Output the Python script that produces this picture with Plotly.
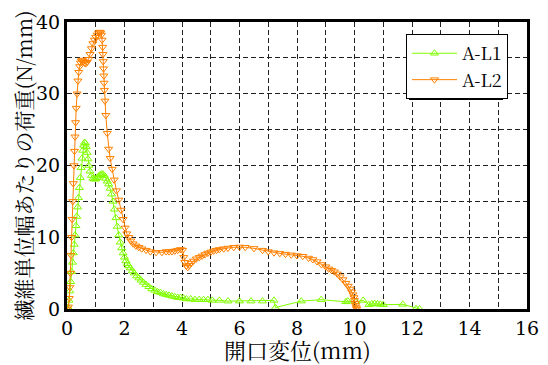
import plotly.graph_objects as go

# A-L1 data (opening displacement mm, load N/mm)
x_l1 = [0.0, 0.04, 0.07, 0.1, 0.13, 0.16, 0.19, 0.22, 0.25, 0.28, 0.31, 0.34, 0.37, 0.4, 0.43,
        0.46, 0.49, 0.52, 0.55, 0.58, 0.61, 0.64, 0.67, 0.7, 0.73, 0.76, 0.8, 0.85, 0.9, 0.95,
        1.0, 1.05, 1.1, 1.15, 1.2, 1.25, 1.3, 1.35, 1.4, 1.45, 1.5, 1.55, 1.6, 1.65, 1.7, 1.75,
        1.8, 1.85, 1.9, 1.95, 2.0, 2.05, 2.1, 2.15, 2.2, 2.27, 2.34, 2.42, 2.5, 2.58, 2.66, 2.75,
        2.85, 2.95, 3.05, 3.15, 3.25, 3.35, 3.45, 3.55, 3.65, 3.75, 3.85, 3.95, 4.05, 4.15, 4.3,
        4.45, 4.6, 4.75, 4.9, 5.05, 5.3, 5.6, 6.0, 6.4, 6.8, 7.2, 7.25, 8.15, 8.84, 9.7, 9.77,
        10.05, 10.3, 10.5, 10.6, 10.7, 10.8, 10.9, 11.0, 11.68, 12.14, 12.26]
y_l1 = [0.0, 0.2, 1.2, 2.5, 3.8, 5.2, 6.5, 7.8, 9.0, 10.3, 11.6, 12.9, 14.2, 15.5, 16.9,
        18.3, 19.7, 21.0, 22.1, 22.8, 23.2, 23.1, 22.6, 21.8, 20.9, 20.0, 19.2, 18.6, 18.2, 18.1,
        18.1, 18.3, 18.5, 18.7, 18.8, 18.8, 18.6, 18.2, 17.8, 17.4, 16.8, 16.0, 15.0, 13.9, 12.7, 11.5,
        10.3, 9.3, 8.5, 7.8, 7.2, 6.7, 6.3, 6.0, 5.7, 5.3, 5.0, 4.6, 4.3, 4.0, 3.7, 3.4,
        3.1, 2.8, 2.6, 2.4, 2.3, 2.1, 2.0, 1.9, 1.8, 1.7, 1.6, 1.6, 1.5, 1.4, 1.4,
        1.3, 1.3, 1.3, 1.3, 1.2, 1.2, 1.1, 1.1, 1.1, 1.1, 1.2, 0.2, 1.1, 1.3, 1.0, 1.1,
        1.0, 1.2, 0.6, 0.7, 0.75, 0.7, 0.65, 0.6, 0.65, 0.05, 0.0]

# A-L2 data
x_l2 = [0.0, 0.05, 0.08, 0.1, 0.12, 0.14, 0.16, 0.18, 0.2, 0.22, 0.24, 0.26, 0.28, 0.3, 0.32,
        0.35, 0.38, 0.41, 0.44, 0.47, 0.5, 0.53, 0.57, 0.61, 0.65, 0.7, 0.75, 0.8, 0.85, 0.9,
        0.95, 1.0, 1.05, 1.1, 1.14, 1.17, 1.2, 1.22, 1.24, 1.25, 1.26, 1.27, 1.28, 1.29, 1.3,
        1.32, 1.35, 1.4, 1.45, 1.5, 1.57, 1.64, 1.72, 1.8, 1.88, 1.95, 2.02, 2.08, 2.15, 2.22,
        2.3, 2.4, 2.5, 2.6, 2.75, 2.9, 3.1, 3.3, 3.45, 3.55, 3.65, 3.75, 3.85, 3.95, 4.02,
        4.06, 4.1, 4.15, 4.2, 4.25, 4.32, 4.4, 4.5, 4.6, 4.7, 4.8, 4.9, 5.0, 5.1, 5.2, 5.3,
        5.45, 5.6, 5.8, 6.0, 6.2, 6.5, 6.8, 7.0, 7.2, 7.4, 7.6, 7.8, 8.0, 8.2, 8.4, 8.55, 8.7,
        8.85, 9.0, 9.1, 9.2, 9.3, 9.4, 9.5, 9.6, 9.7, 9.78, 9.85, 9.9, 9.95, 9.98, 10.0, 10.02,
        10.04, 10.06, 10.08]
y_l2 = [0.0, 0.3, 1.5, 3.0, 5.0, 7.5, 10.0, 12.5, 15.0, 17.5, 20.0, 22.0, 24.0, 26.0, 28.0,
        30.0, 31.8, 33.0, 33.8, 34.3, 34.6, 34.7, 34.5, 34.3, 34.2, 34.4, 34.8, 35.5, 36.3, 37.0,
        37.5, 37.9, 38.2, 38.5, 38.6, 38.5, 38.2, 37.5, 36.5, 35.5, 34.5, 33.5, 32.5, 31.5, 30.5,
        29.0, 27.0, 24.5, 22.3, 21.0, 19.5, 18.0, 16.5, 15.2, 13.8, 12.5, 11.3, 10.5, 10.0, 9.5,
        9.1, 8.8, 8.6, 8.4, 8.2, 8.0, 7.9, 7.9, 8.0, 8.0, 8.0, 8.1, 8.2, 8.3, 8.2,
        7.2, 6.5, 6.0, 5.8, 6.1, 6.4, 6.7, 7.0, 7.2, 7.4, 7.6, 7.8, 7.95, 8.1, 8.2, 8.3,
        8.4, 8.5, 8.6, 8.65, 8.6, 8.45, 8.2, 8.0, 7.85, 7.75, 7.65, 7.55, 7.45, 7.35, 7.1, 6.9, 6.6,
        6.2, 5.9, 5.6, 5.4, 5.2, 4.9, 4.5, 4.1, 3.6, 3.2, 2.8, 2.4, 2.0, 1.6, 1.2, 0.8,
        0.5, 0.2, 0.0]

x_ticks = [0, 2, 4, 6, 8, 10, 12, 14, 16]
y_ticks = [0, 10, 20, 30, 40]
x_title = "開口変位(mm)"
y_title = "繊維単位幅あたりの荷重(N/mm)"

GREEN = "#80FF00"
ORANGE = "#FF8000"
FONT = "Noto Serif CJK JP, DejaVu Serif, serif"
TICKFONT = "DejaVu Serif, serif"
GRID = dict(showgrid=True, gridcolor="#222", gridwidth=1, griddash="5px,3px")

fig = go.Figure()
fig.add_trace(go.Scatter(x=x_l1, y=y_l1, mode="lines+markers", name="A-L1",
                         line=dict(color=GREEN, width=1),
                         marker=dict(symbol="triangle-up-open", size=7, color=GREEN,
                                     line=dict(width=1, color=GREEN))))
fig.add_trace(go.Scatter(x=x_l2, y=y_l2, mode="lines+markers", name="A-L2",
                         line=dict(color=ORANGE, width=1),
                         marker=dict(symbol="triangle-down-open", size=7, color=ORANGE,
                                     line=dict(width=1, color=ORANGE))))

fig.update_layout(
    width=548, height=365,
    margin=dict(l=67, r=21, t=22, b=56),
    paper_bgcolor="white", plot_bgcolor="white",
    font=dict(family=FONT, size=21, color="black"),
    showlegend=True,
    legend=dict(x=0.737, y=0.958, xanchor="left", yanchor="top",
                bgcolor="white", bordercolor="black", borderwidth=1,
                font=dict(size=18, family=FONT), tracegroupgap=0,
                itemwidth=45),
    xaxis=dict(range=[0, 16], tickvals=x_ticks, ticks="", showline=True, linecolor="black",
               linewidth=3, mirror=True, zeroline=False, automargin=False,
               tickfont=dict(family=TICKFONT, size=19),
               minor=dict(dtick=1, **GRID), **GRID),
    yaxis=dict(range=[0, 40], tickvals=y_ticks, ticks="", showline=True, linecolor="black",
               linewidth=3, mirror=True, zeroline=False, automargin=False,
               tickfont=dict(family=TICKFONT, size=19),
               minor=dict(dtick=5, **GRID), **GRID),
)

# axis titles as annotations for precise placement
fig.add_annotation(text=x_title, xref="paper", yref="paper", x=0.5, y=-0.14,
                   xanchor="center", yanchor="middle", showarrow=False,
                   font=dict(family=FONT, size=22))
fig.add_annotation(text=y_title, xref="paper", yref="paper", x=-0.0957, y=0.5,
                   xanchor="center", yanchor="middle", showarrow=False, textangle=-90,
                   font=dict(family=FONT, size=21))

# legend drop shadow
fig.add_shape(type="rect", xref="paper", yref="paper",
              x0=0.7435, x1=0.948, y0=0.948, y1=0.728,
              fillcolor="black", line=dict(width=0), layer="above")

fig.write_html("out.html", config={"displayModeBar": False},
               post_script="document.body.style.margin='0';")
